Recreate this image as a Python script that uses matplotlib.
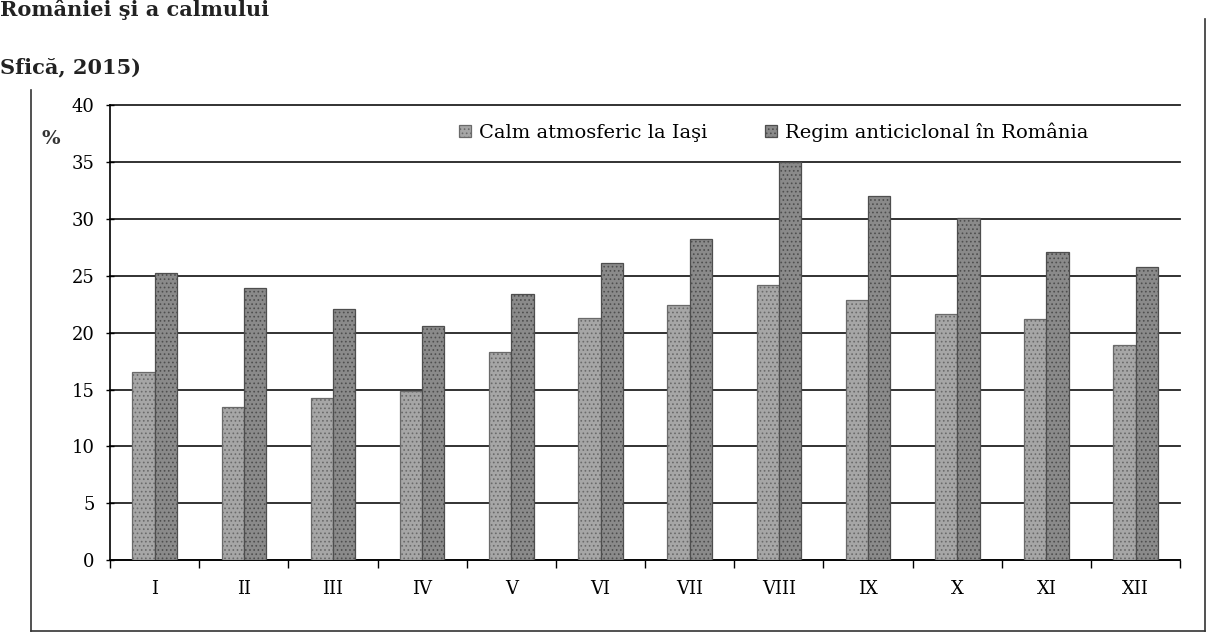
import numpy as np
import matplotlib
matplotlib.use('Agg')
import matplotlib.pyplot as plt
from matplotlib.lines import Line2D

# luni (cifre romane) si valorile, in %
luni = ['I', 'II', 'III', 'IV', 'V', 'VI', 'VII', 'VIII', 'IX', 'X', 'XI', 'XII']
calm_iasi = [16.5, 13.5, 14.3, 14.9, 18.3, 21.3, 22.4, 24.2, 22.9, 21.6, 21.2, 18.9]
regim_anticiclonal = [25.2, 23.9, 22.1, 20.6, 23.4, 26.1, 28.2, 35.0, 32.0, 30.1, 27.1, 25.8]

serie_1 = 'Calm atmosferic la Iaşi'
serie_2 = 'Regim anticiclonal în România'

plt.rcParams['font.family'] = ['DejaVu Serif']
plt.rcParams['hatch.color'] = '#5e5e5e'
plt.rcParams['hatch.linewidth'] = 0.7

fig = plt.figure(figsize=(12.23, 6.44), dpi=100)
ax = fig.add_axes([0.09, 0.13, 0.875, 0.707])

x = np.arange(len(luni))
w = 0.25
ax.bar(x - w / 2, calm_iasi, width=w, color='#a6a6a6', edgecolor='#6a6a6a',
       hatch='....', linewidth=0.9, label=serie_1, zorder=3)
ax.bar(x + w / 2, regim_anticiclonal, width=w, color='#8a8a8a', edgecolor='#4e4e4e',
       hatch='....', linewidth=0.9, label=serie_2, zorder=3)

ax.set_ylim(0, 40)
ax.set_yticks(range(0, 41, 5))
ax.set_xlim(-0.5, len(luni) - 0.5)
ax.set_xticks(x)
ax.set_xticklabels(luni)
ax.set_xticks(np.arange(-0.5, len(luni), 1), minor=True)
ax.tick_params(axis='x', which='major', length=0, pad=14, labelsize=13)
ax.tick_params(axis='x', which='minor', length=6, direction='out', width=1)
ax.tick_params(axis='y', length=6, direction='inout', width=1, labelsize=13, pad=8)

ax.grid(axis='y', color='#222222', linewidth=1.3, zorder=0)
for gl in ax.get_ygridlines():
    gl.set_clip_on(False)
for s in ['top', 'right']:
    ax.spines[s].set_visible(False)
ax.spines['left'].set_linewidth(1.2)
ax.spines['bottom'].set_linewidth(1.2)

ax.text(-0.055, 0.925, '%', transform=ax.transAxes, fontsize=14,
        fontweight='bold', ha='center', va='center', color='#333333')

leg = ax.legend(loc='center', bbox_to_anchor=(0.62, 0.94), ncol=2, frameon=False,
                fontsize=14, handlelength=0.6, handleheight=0.6, columnspacing=3.0,
                handletextpad=0.4)

# rama graficului
fig.add_artist(Line2D([0.025, 0.025], [0.02, 0.86], transform=fig.transFigure,
                      color='#333333', lw=1.2))
fig.add_artist(Line2D([0.985, 0.985], [0.02, 0.97], transform=fig.transFigure,
                      color='#333333', lw=1.2))
fig.add_artist(Line2D([0.025, 0.985], [0.02, 0.02], transform=fig.transFigure,
                      color='#333333', lw=1.2))

# fragmente din textul paginii
fig.text(0.0, 0.985, 'României şi a calmului', fontsize=15, fontweight='bold',
         ha='left', va='center', color='#222222')
fig.text(0.0, 0.895, 'Sfică, 2015)', fontsize=15, fontweight='bold',
         ha='left', va='center', color='#222222')

fig.savefig('out.png', dpi=100)
